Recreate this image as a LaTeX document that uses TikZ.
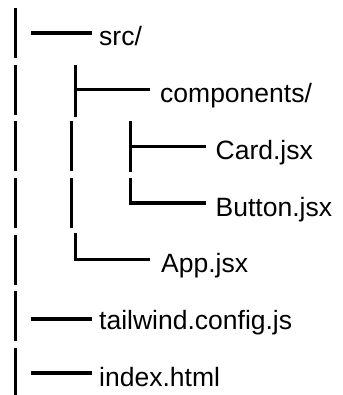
\documentclass[tikz,border=0pt]{standalone}
\usepackage{fontspec}
\setmainfont{Liberation Sans}
\begin{document}
\begin{tikzpicture}[x=1pt,y=-1pt,
  treeline/.style={line width=3pt,black},
  hline/.style={line width=3.4pt,black},
  label/.style={anchor=base west,inner sep=0pt,font=\fontsize{26.5}{30}\selectfont}]
\fill[white] (0,0) rectangle (342,395);
\useasboundingbox (0,0) rectangle (342,395);
% text nodes
\node[label] (src) at (99,46) {src/};
\node[label] (comp) at (160,102.5) {components/};
\node[label] (card) at (215.5,160) {Card.jsx};
\node[label] (button) at (215.5,216) {Button.jsx};
\node[label] (app) at (161,272.5) {App.jsx};
\node[label] (tw) at (99,329.5) {tailwind.config.js};
\node[label] (idx) at (99,386) {index.html};
% column 0 vertical bars
\foreach \y in {33,89.7,146.3,203,259.7,316.3,373}
  \draw[treeline] (15.5,\y-25) -- (15.5,\y+25);
% column 1 plain bars
\foreach \y in {146.3,203}
  \draw[treeline] (71.5,\y-25) -- (71.5,\y+25);
% horizontal stubs at column 0
\coordinate (s0) at (31,33);
\coordinate (s5) at (31,319);
\coordinate (s6) at (31,373);
\draw[hline] (s0) -- ++(61,0);
\draw[hline] (s5) -- ++(61,0);
\draw[hline] (s6) -- ++(61,0);
% components tee
\coordinate (t1) at (75,89.7);
\draw[treeline] (75,64.7) -- (75,116.7);
\draw[hline] (t1) -- (150,89.7);
% App elbow
\coordinate (e4) at (75,259.7);
\draw[treeline] (75,233) -- (75,259.7);
\draw[hline] ([xshift=-1.5pt]e4) -- (150,259.7);
% Card tee
\coordinate (t2) at (130,146.3);
\draw[treeline] (130,121.3) -- (130,172.3);
\draw[hline] (t2) -- (206,146.3);
% Button elbow
\coordinate (e3) at (130,203);
\draw[treeline] (130,177.5) -- (130,203);
\draw[hline] ([xshift=-1.5pt]e3) -- (206,203);
\end{tikzpicture}
\end{document}
